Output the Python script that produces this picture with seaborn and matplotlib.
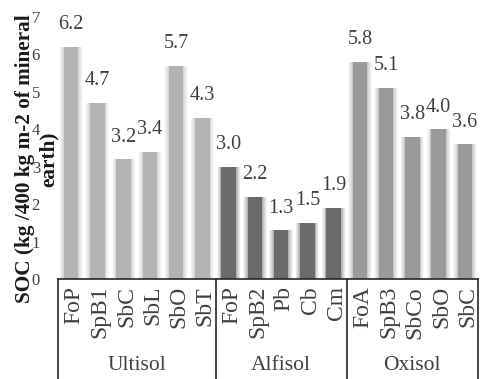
import matplotlib
matplotlib.use("Agg")
import matplotlib.pyplot as plt
import matplotlib.transforms as mtransforms
import numpy as np
import pandas as pd
import seaborn as sns

# Soil organic carbon per land use, grouped by soil order
soils = ["Ultisol", "Alfisol", "Oxisol"]
ultisol_uses = ["FoP", "SpB1", "SbC", "SbL", "SbO", "SbT"]
ultisol_soc = [6.2, 4.7, 3.2, 3.4, 5.7, 4.3]
alfisol_uses = ["FoP", "SpB2", "Pb", "Cb", "Cm"]
alfisol_soc = [3.0, 2.2, 1.3, 1.5, 1.9]
oxisol_uses = ["FoA", "SpB3", "SbCo", "SbO", "SbC"]
oxisol_soc = [5.8, 5.1, 3.8, 4.0, 3.6]
y_ticks = [0, 1, 2, 3, 4, 5, 6, 7]
y_title = "SOC (kg /400 kg m-2 of mineral\nearth)"

soil_colors = {"Ultisol": "#b3b3b3", "Alfisol": "#6b6b6b", "Oxisol": "#9a9a9a"}

uses = ultisol_uses + alfisol_uses + oxisol_uses
soc = ultisol_soc + alfisol_soc + oxisol_soc
soil = (["Ultisol"] * len(ultisol_uses) + ["Alfisol"] * len(alfisol_uses)
        + ["Oxisol"] * len(oxisol_uses))
df = pd.DataFrame({"idx": np.arange(len(uses)), "use": uses, "soc": soc, "soil": soil})

sns.set_theme(style="white")
plt.rcParams["font.family"] = ["Liberation Serif", "DejaVu Serif"]

fig = plt.figure(figsize=(4.8, 3.79), dpi=100)
ax = fig.add_axes([58 / 480, 100 / 379, 420 / 480, 262 / 379])

# soft glow around each bar
for k, alpha in [(5, 0.08), (4, 0.10), (3, 0.12), (2, 0.16), (1, 0.22)]:
    ax.bar(df["idx"], df["soc"], width=0.55 + 0.07 * k,
           color=[soil_colors[s] for s in df["soil"]], alpha=alpha,
           linewidth=0, zorder=1)

sns.barplot(data=df, x="idx", y="soc", hue="soil", palette=soil_colors,
            hue_order=soils, dodge=False, width=0.55, legend=False,
            linewidth=0, saturation=1, ax=ax, zorder=2)

ax.set_xlim(-0.5, len(uses) - 0.5)
ax.set_ylim(0, 7)
ax.set_yticks(y_ticks)
ax.set_yticklabels([str(t) for t in y_ticks], fontsize=12, color="#404040")
ax.tick_params(axis="y", length=0, pad=13)
ax.set_xlabel("")
ax.set_ylabel("")

# category labels, rotated, hanging from the axis
ax.set_xticks(np.arange(len(uses)))
ax.set_xticklabels(uses, rotation=90, fontsize=17, color="#404040", va="top", ha="center")
ax.tick_params(axis="x", length=0, pad=5)
shift = mtransforms.ScaledTranslation(3 / 100, 0, fig.dpi_scale_trans)
for lbl in ax.get_xticklabels():
    lbl.set_transform(lbl.get_transform() + shift)

for side in ["left", "right", "top"]:
    ax.spines[side].set_visible(False)
ax.spines["bottom"].set_color("#262626")
ax.spines["bottom"].set_linewidth(1.2)

# value labels above bars
for i, v in zip(df["idx"], df["soc"]):
    ax.annotate(f"{v:.1f}", (i, v), xytext=(0, 16), textcoords="offset points",
                ha="center", va="center", fontsize=14.5, color="#404040")

# group boxes and soil names under the categories
xtrans = ax.get_xaxis_transform()
sizes = [len(ultisol_uses), len(alfisol_uses), len(oxisol_uses)]
edges = np.concatenate([[0], np.cumsum(sizes)]) - 0.5
for e in edges:
    ax.plot([e, e], [0, -0.5], transform=xtrans, color="#262626", lw=1.2,
            clip_on=False, zorder=5)
for name, a, b in zip(soils, edges[:-1], edges[1:]):
    ax.text((a + b) / 2, -86 / 262, name, transform=xtrans, ha="center",
            va="center", fontsize=15.5, color="#404040")

fig.text(37 / 480, 1 - 159 / 379, y_title, rotation=90, ha="center", va="center",
         multialignment="center", fontsize=15.3, fontweight="bold", color="#1a1a1a",
         linespacing=1.2)

fig.savefig("out.png", dpi=100)
